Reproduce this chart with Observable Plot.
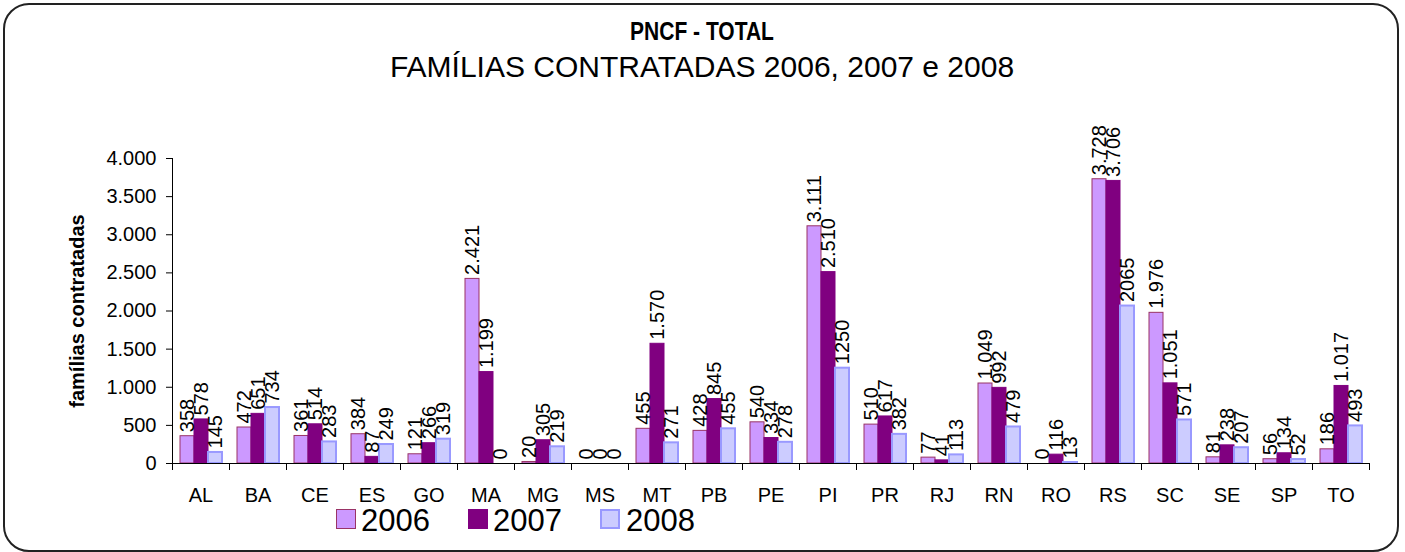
<!DOCTYPE html>
<html>
<head>
<meta charset="utf-8">
<script src="https://cdn.jsdelivr.net/npm/d3@7"></script>
<script src="https://cdn.jsdelivr.net/npm/@observablehq/plot@0.6"></script>
<style>
  html, body { margin: 0; padding: 0; background: #fff; }
  body { width: 1405px; height: 552px; position: relative; overflow: hidden; font-family: "Liberation Sans", Arial, sans-serif; color: #000; }
  #border { position: absolute; left: 3px; top: 3px; width: 1392px; height: 545px; border: 2px solid #222; border-radius: 26px; pointer-events: none; }
  #header { position: relative; height: 100px; }
  #title { position: absolute; left: 0; width: 1404px; top: 19px; text-align: center; font-family: "Liberation Sans", Arial, sans-serif; font-weight: bold; font-size: 25px; line-height: 25px; transform: scaleX(0.84); transform-origin: 702px 50%; }
  #subtitle { position: absolute; left: 0; width: 1404px; top: 52px; text-align: center; font-size: 30px; line-height: 30px; }
  #chart { position: relative; height: 405px; }
  #chart svg g[aria-label="y-axis label"] text, #chart svg g[aria-label="y-axis label"] { font-weight: bold; }
  #legend { position: relative; height: 47px; }
  .sw { position: absolute; box-sizing: border-box; width: 20px; height: 20px; top: 4px; }
  .lt { position: absolute; top: 0px; font-size: 31px; line-height: 31px; }
</style>
</head>
<body>
<div id="border"></div>
<div id="header">
  <div id="title">PNCF - TOTAL</div>
  <div id="subtitle">FAMÍLIAS CONTRATADAS 2006, 2007 e 2008</div>
</div>
<div id="chart"></div>
<div id="legend"></div>
<script>
const states = ["AL","BA","CE","ES","GO","MA","MG","MS","MT","PB","PE","PI","PR","RJ","RN","RO","RS","SC","SE","SP","TO"];
const years = ["2006","2007","2008"];
const v2006 = [358, 472, 361, 384, 121, 2421, 20, 0, 455, 428, 540, 3111, 510, 77, 1049, 0, 3728, 1976, 81, 56, 186];
const v2007 = [578, 651, 514, 87, 266, 1199, 305, 0, 1570, 845, 334, 2510, 617, 41, 992, 116, 3706, 1051, 238, 134, 1017];
const v2008 = [145, 734, 283, 249, 319, 0, 219, 0, 271, 455, 278, 1250, 382, 113, 479, 13, 2065, 571, 207, 52, 493];
const yTicks = [0, 500, 1000, 1500, 2000, 2500, 3000, 3500, 4000];
const yLabel = "famílias contratadas";

const series = [v2006, v2007, v2008];
const fills = ["#CC99FF", "#800080", "#CCCCFF"];
const strokes = ["#993366", "#800080", "#9999FF"];
const strokeWidths = [1, 1, 2];

const ptBR = d3.formatLocale({decimal: ",", thousands: ".", grouping: [3], currency: ["R$", ""]});
const fmtThousands = ptBR.format(",d");
// 2008 labels in the source are shown without thousands separator
const labelFormat = (d) => d.year === "2008" ? String(d.value) : fmtThousands(d.value);

const rows = states.flatMap((s, i) => years.map((yr, j) => ({state: s, year: yr, value: series[j][i]})));

const W = 1405, H = 405, mT = 58, mB = 42, mL = 171, mR = 35;
const plotH = H - mT - mB;

const chart = Plot.plot({
  width: W, height: H,
  marginTop: mT, marginBottom: mB, marginLeft: mL, marginRight: mR,
  style: {fontFamily: "'Liberation Sans', Arial, sans-serif", fontSize: "20px", color: "#000", background: "transparent", overflow: "visible"},
  fx: {domain: states, padding: 0, label: null, axis: null},
  x: {domain: years, paddingInner: 0, paddingOuter: 0.45, axis: null},
  y: {domain: [0, 4000], axis: null},
  marks: [
    ...years.map((yr, j) => Plot.barY(rows.filter(r => r.year === yr && r.value > 0), {
      fx: "state", x: "year", y: "value",
      fill: fills[j], stroke: strokes[j], strokeWidth: strokeWidths[j]
    })),
    Plot.text(rows, {
      fx: "state", x: "year", y: "value", text: labelFormat,
      rotate: -90, textAnchor: "start", dy: -4, fontSize: 20, fill: "#000"
    }),
    Plot.ruleY([0], {stroke: "#000", strokeWidth: 1}),
    Plot.frame({anchor: "left", insetTop: plotH, insetBottom: -6, stroke: "#000"}),
    Plot.frame({anchor: "right", insetTop: plotH, insetBottom: -6, stroke: "#000"}),
    Plot.frame({anchor: "left", facetAnchor: "left", stroke: "#000"}),
    Plot.axisY({
      ticks: yTicks, tickFormat: fmtThousands, tickSize: 6, tickPadding: 10,
      label: yLabel, labelAnchor: "center", labelOffset: 103, labelArrow: "none", fontSize: 20
    }),
    Plot.axisFx({anchor: "bottom", tickSize: 0, tickPadding: 24, label: null, fontSize: 20})
  ]
});
document.getElementById("chart").appendChild(chart);

// legend
const legend = document.getElementById("legend");
const swX = [336, 468, 600];
const txX = [361, 493, 626];
years.forEach((yr, j) => {
  const sw = document.createElement("div");
  sw.className = "sw";
  sw.style.left = swX[j] + "px";
  sw.style.background = fills[j];
  sw.style.border = strokeWidths[j] + "px solid " + strokes[j];
  legend.appendChild(sw);
  const t = document.createElement("div");
  t.className = "lt";
  t.style.left = txX[j] + "px";
  t.textContent = yr;
  legend.appendChild(t);
});
</script>
</body>
</html>
